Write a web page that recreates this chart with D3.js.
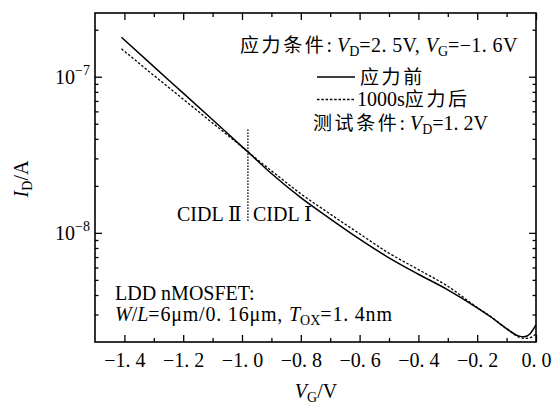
<!DOCTYPE html>
<html><head><meta charset="utf-8">
<script src="https://cdn.jsdelivr.net/npm/d3@7"></script>
<style>
body{margin:0;background:#fff}
text{font-family:"Liberation Serif","DejaVu Serif","Noto Sans CJK SC",serif;fill:#000;font-size:20px}
</style>
</head><body><svg id="c" width="555" height="409"></svg>
<script>
// ---- data ----
const vg = [-1.41,-1.3,-1.2,-1.1,-1.0,-0.98,-0.9,-0.8,-0.7,-0.6,-0.5,-0.4,-0.3,-0.2,-0.15,-0.1,-0.06,-0.04,-0.02,0.0];
const idBefore = [1.79e-7,1.16e-7,7.85e-8,5.30e-8,3.57e-8,3.30e-8,2.40e-8,1.68e-8,1.23e-8,9.12e-9,6.92e-9,5.43e-9,4.32e-9,3.31e-9,2.86e-9,2.44e-9,2.19e-9,2.16e-9,2.26e-9,2.57e-9];
const idAfter  = [1.51e-7,1.02e-7,7.18e-8,5.05e-8,3.55e-8,3.30e-8,2.50e-8,1.78e-8,1.32e-8,9.86e-9,7.41e-9,5.82e-9,4.55e-9,3.33e-9,2.88e-9,2.43e-9,2.16e-9,2.11e-9,2.13e-9,2.26e-9];
const xTicks = [-1.4,-1.2,-1.0,-0.8,-0.6,-0.4,-0.2,0.0];
const xTickLabels = ["\u22121. 4","\u22121. 2","\u22121. 0","\u22120. 8","\u22120. 6","\u22120. 4","\u22120. 2","0. 0"];
const xMinor = [-1.3,-1.1,-0.9,-0.7,-0.5,-0.3,-0.1];
const yMajor = [1e-8,1e-7];
const yMajorExp = ["\u22128","\u22127"];
const yMinor = [3e-9,4e-9,5e-9,6e-9,7e-9,8e-9,9e-9,2e-8,3e-8,4e-8,5e-8,6e-8,7e-8,8e-8,9e-8,2e-7];
const cidlVg = -0.98;
const cidlRange = [1.17e-8,4.6e-8];

// ---- chart ----
const svg = d3.select("#c");
const x = d3.scaleLinear().domain([-1.5,0]).range([95,536]);
const y = d3.scaleLog().domain([2e-9,2.56e-7]).range([342,13]);

function styleAxis(g){ g.select(".domain").remove(); g.attr("font-family",null).attr("font-size",null); g.selectAll("line").attr("stroke","#000").attr("stroke-width",1.3); }

// bottom
svg.append("g").attr("transform","translate(0,342)")
  .call(d3.axisBottom(x).tickValues(xTicks).tickSize(-7).tickPadding(11).tickFormat((d,i)=>xTickLabels[i]))
  .call(styleAxis)
  .call(g=>g.selectAll("text").attr("fill","#000"));
svg.append("g").attr("transform","translate(0,342)")
  .call(d3.axisBottom(x).tickValues(xMinor).tickSize(-4).tickFormat("")).call(styleAxis);
// top
svg.append("g").attr("transform","translate(0,13)")
  .call(d3.axisTop(x).tickValues(xTicks).tickSize(-7).tickFormat("")).call(styleAxis);
svg.append("g").attr("transform","translate(0,13)")
  .call(d3.axisTop(x).tickValues(xMinor).tickSize(-4).tickFormat("")).call(styleAxis);
// left
svg.append("g").attr("transform","translate(95,0)")
  .call(d3.axisLeft(y).tickValues(yMajor).tickSize(-7).tickFormat("")).call(styleAxis);
svg.append("g").attr("transform","translate(95,0)")
  .call(d3.axisLeft(y).tickValues(yMinor).tickSize(-3.5).tickFormat("")).call(styleAxis);
// right
svg.append("g").attr("transform","translate(536,0)")
  .call(d3.axisRight(y).tickValues(yMajor).tickSize(-7).tickFormat("")).call(styleAxis);
svg.append("g").attr("transform","translate(536,0)")
  .call(d3.axisRight(y).tickValues(yMinor).tickSize(-3.5).tickFormat("")).call(styleAxis);

// y tick labels
yMajor.forEach((v,i)=>{
  const t = svg.append("text").attr("x",90).attr("y",y(v)+7).attr("text-anchor","end");
  t.append("tspan").text("10");
  t.append("tspan").attr("font-size",14).attr("dy",-9).text(yMajorExp[i]);
});

// frame
svg.append("rect").attr("x",95).attr("y",13).attr("width",441).attr("height",329)
  .attr("fill","none").attr("stroke","#000").attr("stroke-width",1.6);

// curves
const line = d3.line().x(d=>x(d[0])).y(d=>y(d[1])).curve(d3.curveMonotoneX);
svg.append("path").datum(vg.map((v,i)=>[v,idBefore[i]])).attr("d",line)
  .attr("fill","none").attr("stroke","#000").attr("stroke-width",1.5);
svg.append("path").datum(vg.map((v,i)=>[v,idAfter[i]])).attr("d",line)
  .attr("fill","none").attr("stroke","#000").attr("stroke-width",1.3).attr("stroke-dasharray","2.5,1.8");

// CIDL boundary
svg.append("line").attr("x1",x(cidlVg)).attr("x2",x(cidlVg)).attr("y1",y(cidlRange[1])).attr("y2",y(cidlRange[0]))
  .attr("stroke","#000").attr("stroke-width",1.6).attr("stroke-dasharray","1.4,1.6");

// rich text helper
function rich(xp, yp, segs, anchor){
  const t = svg.append("text").attr("x",xp).attr("y",yp);
  if(anchor) t.attr("text-anchor",anchor);
  let subOn=false;
  segs.forEach(s=>{
    const ts = t.append("tspan").text(s.t);
    if(s.it) ts.attr("font-style","italic");
    if(s.cjk) ts.attr("font-family","'Noto Sans CJK SC'").attr("font-size",19).attr("letter-spacing",2.6);
    if(s.ls) ts.attr("letter-spacing",s.ls);
    if(s.sub){ ts.attr("font-size",14).attr("dy",4); subOn=true; }
    else if(subOn){ ts.attr("dy",-4); subOn=false; }
  });
  return t;
}

rich(240,52,[{t:"应力条件",cjk:true},{t:": "},{t:"V",it:true},{t:"D",sub:true},{t:"=2. 5V, ",ls:0.4},{t:"V",it:true},{t:"G",sub:true},{t:"=\u22121. 6V",ls:0.4}]);
// legend
svg.append("line").attr("x1",317).attr("x2",355).attr("y1",77).attr("y2",77).attr("stroke","#000").attr("stroke-width",1.5);
rich(360,84,[{t:"应力前",cjk:true}]);
svg.append("line").attr("x1",317).attr("x2",355).attr("y1",99.5).attr("y2",99.5).attr("stroke","#000").attr("stroke-width",1.3).attr("stroke-dasharray","2.5,1.8");
rich(357,106,[{t:"1000s"},{t:"应力后",cjk:true}]);
rich(313,130,[{t:"测试条件",cjk:true},{t:": "},{t:"V",it:true},{t:"D",sub:true},{t:"=1. 2V"}]);

rich(177,221,[{t:"CIDL \u2161"}]);
rich(253,221,[{t:"CIDL \u2160"}]);

rich(115,300,[{t:"LDD nMOSFET:"}]);
rich(115,321,[{t:"W",it:true},{t:"/"},{t:"L",it:true},{t:"=6\u03bcm/0. 16\u03bcm, ",ls:0.8},{t:"T",it:true},{t:"OX",sub:true},{t:"=1. 4nm",ls:0.8}]);

// axis titles
rich(316,398,[{t:"V",it:true},{t:"G",sub:true},{t:"/V"}],"middle");
rich(0,0,[{t:"I",it:true},{t:"D",sub:true},{t:"/A"}],"middle").attr("transform","translate(28,179) rotate(-90)");
</script>
</body></html>
